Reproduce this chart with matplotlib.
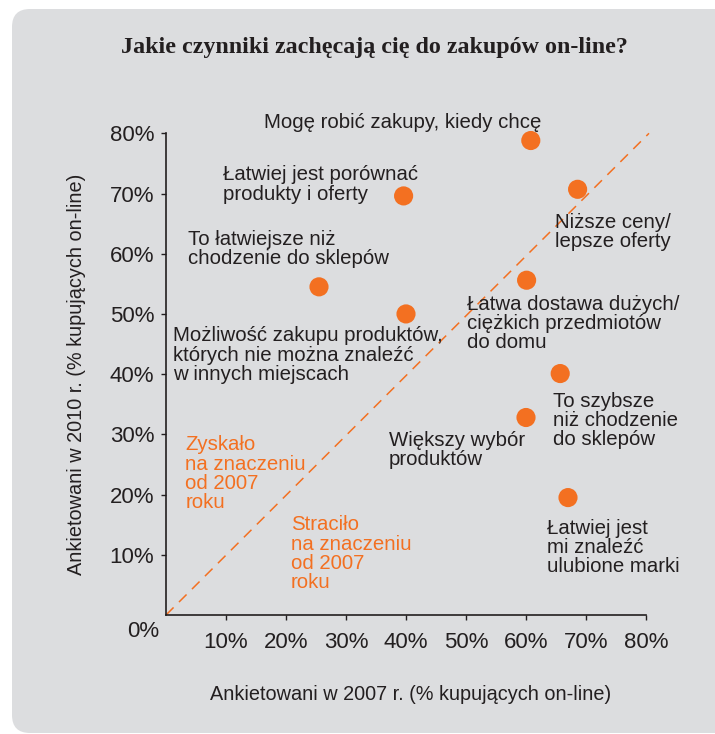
import matplotlib
matplotlib.use("Agg")
import matplotlib.pyplot as plt
from matplotlib.patches import FancyBboxPatch

# odsetek kupujących on-line wskazujących dany czynnik
labels = [
    "Mogę robić zakupy, kiedy chcę",
    "Łatwiej jest porównać\nprodukty i oferty",
    "Niższe ceny/\nlepsze oferty",
    "To łatwiejsze niż\nchodzenie do sklepów",
    "Możliwość zakupu produktów,\nktórych nie można znaleźć\nw innych miejscach",
    "Łatwa dostawa dużych/\nciężkich przedmiotów\ndo domu",
    "To szybsze\nniż chodzenie\ndo sklepów",
    "Większy wybór\nproduktów",
    "Łatwiej jest\nmi znaleźć\nulubione marki",
]
share_2007 = [60.8, 39.6, 68.6, 25.5, 40.0, 60.1, 65.7, 60.0, 67.0]
share_2010 = [78.8, 69.6, 70.7, 54.5, 50.0, 55.6, 40.1, 32.8, 19.5]
ticks = [10, 20, 30, 40, 50, 60, 70, 80]
tick_labels = [f"{t}%" for t in ticks]
diag_x = [0, 80.5]
diag_y = [0, 80]

# przesunięcie podpisu względem kropki (piksele, linia bazowa 1. wiersza)
offsets = [(-267, 13), (-181, 16), (-23, -38), (-131, 42), (-233, -27),
           (-60, -29), (-7, -33), (-137, -28), (-21, -36)]

ORANGE = "#f37021"
DARK = "#231f20"
PANEL = "#dcdddf"
FS = 14.7
ASC = 0.72 * FS * 100 / 72   # od góry tekstu do linii bazowej, px

plt.rcParams['font.family'] = ['Liberation Sans', 'DejaVu Sans']

fig = plt.figure(figsize=(7.15, 7.34), dpi=100)
fig.patch.set_facecolor("white")

# szare tło z zaokrąglonymi rogami
panel = FancyBboxPatch((0.12, 0.01), 7.4, 7.24,
                       boxstyle="round,pad=0,rounding_size=0.18",
                       transform=fig.dpi_scale_trans, facecolor=PANEL,
                       edgecolor="none", zorder=-5)
fig.patches.append(panel)

fig.text(0.524, 0.935, "Jakie czynniki zachęcają cię do zakupów on-line?",
         ha='center', va='center', fontsize=17.3, fontweight='bold',
         family=['Liberation Serif', 'DejaVu Serif'], color=DARK)

ax = fig.add_axes([166 / 715, 119 / 734, 480 / 715, 481.7 / 734])
ax.set_facecolor("none")
ax.set_xlim(0, 80)
ax.set_ylim(0, 80)

for s in ['top', 'right']:
    ax.spines[s].set_visible(False)
for s in ['left', 'bottom']:
    ax.spines[s].set_linewidth(1.2)
    ax.spines[s].set_color(DARK)

ax.set_xticks(ticks)
ax.set_xticklabels(tick_labels)
ax.set_yticks(ticks)
ax.set_yticklabels(tick_labels)
ax.tick_params(axis='both', direction='out', length=3.5, width=1,
               color=DARK, labelcolor=DARK, labelsize=16)
ax.tick_params(axis='x', pad=9)
ax.tick_params(axis='y', pad=5)
ax.text(-0.048, -0.035, "0%", transform=ax.transAxes, ha='center',
        va='center', fontsize=16, color=DARK)

# linia y = x
ax.plot(diag_x, diag_y, color=ORANGE, lw=1.1, dashes=(7, 5), clip_on=False)

ax.scatter(share_2007, share_2010, s=190, color=ORANGE, edgecolors='none',
           zorder=3, clip_on=False)

for lab, x, y, (dx, dy) in zip(labels, share_2007, share_2010, offsets):
    ax.annotate(lab, (x, y), xytext=(dx, dy + ASC), textcoords='offset pixels',
                ha='left', va='top', fontsize=FS, color=DARK,
                linespacing=1.02)

ax.annotate("Zyskało\nna znaczeniu\nod 2007\nroku", (3.2, 27.4),
            xytext=(0, ASC), textcoords='offset pixels', ha='left', va='top',
            fontsize=FS, color=ORANGE, linespacing=1.02)
ax.annotate("Straciło\nna znaczeniu\nod 2007\nroku", (20.8, 14.1),
            xytext=(0, ASC), textcoords='offset pixels', ha='left', va='top',
            fontsize=FS, color=ORANGE, linespacing=1.02)

ax.text(0.51, -0.176, "Ankietowani w 2007 r. (% kupujących on-line)",
        transform=ax.transAxes, ha='center', va='baseline', fontsize=14.3,
        color=DARK)
ax.text(-0.174, 0.5, "Ankietowani w 2010 r. (% kupujących on-line)",
        transform=ax.transAxes, ha='center', va='baseline', rotation=90,
        rotation_mode='anchor', fontsize=14.3, color=DARK)

fig.savefig("out.png", dpi=100, facecolor=fig.get_facecolor())
